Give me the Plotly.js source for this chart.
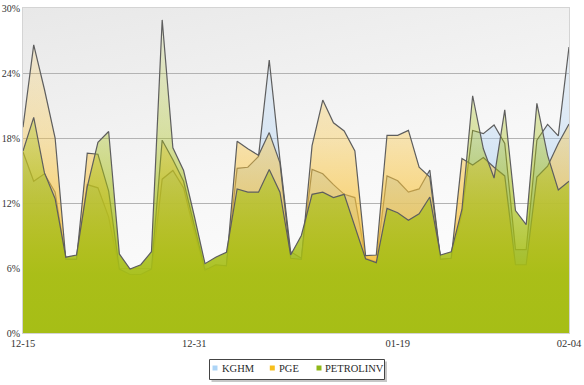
<!DOCTYPE html>
<html><head><meta charset="utf-8">
<script src="https://cdn.plot.ly/plotly-3.0.1.min.js"></script>
<style>html,body{margin:0;padding:0;background:#fff}#chart{width:584px;height:385px}</style>
</head><body><div id="chart"></div>
<script>
// ---- data ----
const dates = ['12-15','12-16','12-17','12-18','12-19','12-20','12-21','12-22','12-23','12-24','12-25','12-26','12-27','12-28','12-29','12-30','12-31',
 '01-01','01-02','01-03','01-04','01-05','01-06','01-07','01-08','01-09','01-10','01-11','01-12','01-13','01-14','01-15','01-16','01-17','01-18','01-19','01-20',
 '01-21','01-22','01-23','01-24','01-25','01-26','01-27','01-28','01-29','01-30','01-31','02-01','02-02','02-03','02-04'];
const xTickLabels = ['12-15','12-31','01-19','02-04'];
const yTickValues = [0,6,12,18,24,30];
const yTickLabels = ['0%','6%','12%','18%','24%','30%'];
const seriesNames = ['KGHM','PGE','PETROLINV'];
const kghm = [16.7,14.0,14.7,13.0,6.8,6.8,13.7,13.4,10.7,5.7,5.0,5.0,5.4,14.2,15.0,13.4,9.3,5.6,6.2,6.2,
 15.2,15.3,16.3,25.2,16.0,7.5,6.9,15.1,14.7,13.7,12.8,12.5,6.9,6.6,14.5,14.05,13.0,13.3,15.05,6.8,
 6.9,11.0,18.7,18.4,19.2,17.5,7.7,7.7,17.8,19.25,18.2,26.4];
const pge = [19.0,26.6,22.5,18.0,6.8,6.8,16.6,16.5,13.1,5.9,5.4,5.4,5.9,17.8,16.0,14.0,9.9,5.8,6.3,6.2,
 17.7,17.0,16.4,18.5,15.7,6.9,6.8,17.3,21.5,19.4,18.65,16.8,7.15,7.2,18.25,18.25,18.7,15.3,14.4,6.8,
 6.9,16.1,15.5,16.2,15.3,14.5,6.3,6.3,14.4,15.4,17.5,19.3];
const petrolinv = [16.8,19.9,14.8,12.4,7.0,7.2,13.5,17.6,18.6,7.3,5.9,6.3,7.5,28.9,17.1,15.0,10.8,6.4,7.0,7.45,
 13.3,13.0,13.0,15.1,13.0,7.2,9.0,12.8,13.0,12.5,12.8,9.9,6.85,6.5,11.5,11.1,10.4,11.0,12.55,7.2,
 7.5,11.4,21.9,17.0,14.3,20.6,11.3,10.0,21.2,16.4,13.2,14.0];
const seriesValues = [kghm, pge, petrolinv];

// ---- styles ----
const fillRGB = ['170,206,242','247,194,60','166,190,22'];
const legendColors = ['#acd4f6','#f7bf1c','#8fb718'];
const lineColor = '#5e5e5e';
const FONT = 'Liberation Serif';
const PLOT = {l:23, r:569, t:8, b:333};
const W = 584, H = 385;
const px2x = p => (p - PLOT.l) / (PLOT.r - PLOT.l);
const py2y = p => (PLOT.b - p) / (PLOT.b - PLOT.t);

const traces = seriesNames.map((name, k) => ({
  type: 'scatter', mode: 'lines', name: name, x: dates, y: seriesValues[k],
  fill: 'tozeroy',
  line: {color: lineColor, width: 1.2},
  fillgradient: {
    type: 'vertical', start: 0, stop: 30,
    colorscale: [[0, 'rgba(' + fillRGB[k] + ',1)'], [0.18, 'rgba(' + fillRGB[k] + ',0.95)'],
                 [0.6, 'rgba(' + fillRGB[k] + ',0.38)'], [1, 'rgba(' + fillRGB[k] + ',0.08)']]
  },
  showlegend: false, hoverinfo: 'x+y+name'
}));

// background gradient for plot area
const bgSvg = '<svg xmlns="http://www.w3.org/2000/svg" width="100" height="100" preserveAspectRatio="none">' +
  '<defs><linearGradient id="g" x1="0" y1="0" x2="0.35" y2="1">' +
  '<stop offset="0" stop-color="#e8e8e8"/><stop offset="0.6" stop-color="#f7f7f7"/><stop offset="1" stop-color="#fdfdfd"/>' +
  '</linearGradient></defs><rect width="100" height="100" fill="url(#g)"/></svg>';
const bgUri = 'data:image/svg+xml;charset=utf-8,' + encodeURIComponent(bgSvg);

// custom legend (positions in pixels)
const legBox = {x0: 209.5, x1: 384.5, y0: 359.5, y1: 379.5};
const legMarkerX = [215, 272.3, 319];
const legTextX = [221, 278, 324];
const legY = 368;
const shapes = [
  {type:'rect', xref:'paper', yref:'paper', x0:px2x(legBox.x0+2), x1:px2x(legBox.x1+2.5), y0:py2y(legBox.y0+2), y1:py2y(legBox.y1+2.5),
   fillcolor:'rgba(0,0,0,0.22)', line:{width:0}, layer:'above'},
  {type:'rect', xref:'paper', yref:'paper', x0:px2x(legBox.x0), x1:px2x(legBox.x1), y0:py2y(legBox.y0), y1:py2y(legBox.y1),
   fillcolor:'#ffffff', line:{color:'#444', width:1}, layer:'above'}
];
seriesNames.forEach((n, k) => {
  shapes.push({type:'rect', xref:'paper', yref:'paper', x0:px2x(legMarkerX[k]-2.5), x1:px2x(legMarkerX[k]+2.5),
    y0:py2y(legY-2.5), y1:py2y(legY+2.5), fillcolor:legendColors[k], line:{width:0}, layer:'above'});
});
const annotations = seriesNames.map((n, k) => ({
  xref:'paper', yref:'paper', x:px2x(legTextX[k]), y:py2y(legY), xanchor:'left', yanchor:'middle',
  text:n, showarrow:false, borderpad:0, font:{family:FONT, size:10.5, color:'#2a2a2a'}
}));

const layout = {
  width: W, height: H,
  margin: {l: PLOT.l, r: W - PLOT.r, t: PLOT.t, b: H - PLOT.b, pad: 0},
  paper_bgcolor: '#ffffff', plot_bgcolor: 'rgba(0,0,0,0)',
  font: {family: FONT, size: 10, color: '#333'},
  showlegend: false,
  xaxis: {type:'category', range:[0, dates.length - 1], tickmode:'array', tickvals:xTickLabels, ticktext:xTickLabels,
    showgrid:false, zeroline:false, showline:true, mirror:true, linecolor:'#d4d4d4', linewidth:1, ticks:'',
    tickfont:{family:FONT, size:10.5, color:'#333'}, fixedrange:true},
  yaxis: {range:[0,30], tickmode:'array', tickvals:yTickValues, ticktext:yTickLabels, showgrid:true, gridcolor:'#b3b3b3', gridwidth:1,
    zeroline:false, showline:true, mirror:true, linecolor:'#d4d4d4', linewidth:1, ticks:'', ticklabelstandoff:0,
    tickfont:{family:FONT, size:10, color:'#333'}, fixedrange:true},
  images: [{source: bgUri, xref:'paper', yref:'paper', x:0, y:1, sizex:1, sizey:1, xanchor:'left', yanchor:'top', sizing:'stretch', layer:'below'}],
  shapes: shapes,
  annotations: annotations
};

Plotly.newPlot('chart', traces, layout, {displayModeBar:false, staticPlot:true});
</script>
</body></html>
